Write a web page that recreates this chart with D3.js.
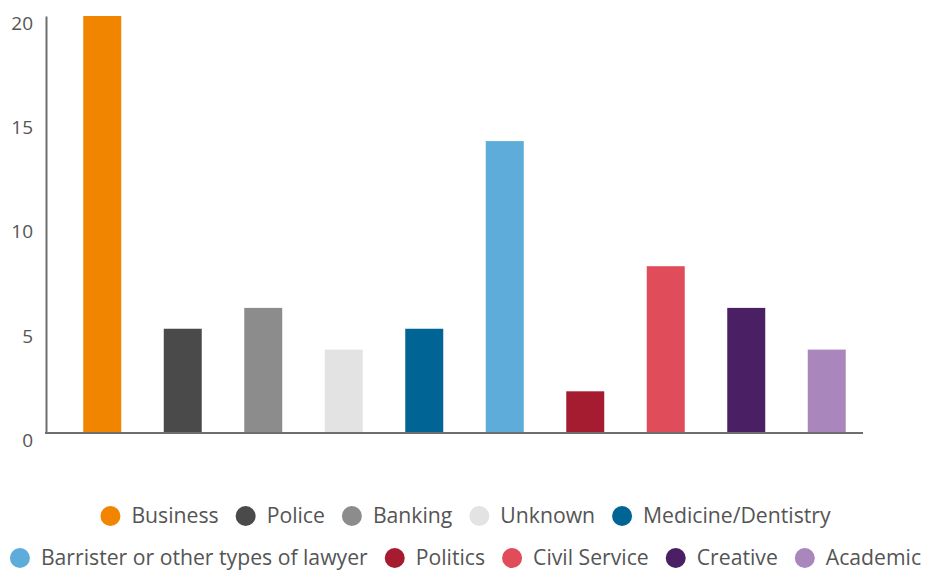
<!DOCTYPE html>
<html>
<head>
<meta charset="utf-8">
<script src="https://cdn.jsdelivr.net/npm/d3@7"></script>
<style>
  html, body { margin: 0; padding: 0; background: #fff; }
  svg { display: block; font-family: "Open Sans", sans-serif; }
</style>
</head>
<body>
<svg id="chart" width="931" height="572"></svg>
<script>
// Occupations and their counts
const categories = ["Business", "Police", "Banking", "Unknown", "Medicine/Dentistry",
  "Barrister or other types of lawyer", "Politics", "Civil Service", "Creative", "Academic"];
const values = [20, 5, 6, 4, 5, 14, 2, 8, 6, 4];
const colors = ["#f28500", "#4a4a4a", "#8c8c8c", "#e3e3e3", "#006494",
  "#5eacd9", "#a51c30", "#e04c5a", "#4a1f63", "#a986bb"];
const yTicks = [0, 5, 10, 15, 20];
const legendRows = [[0, 1, 2, 3, 4], [5, 6, 7, 8, 9]];

const svg = d3.select("#chart");
const W = 931;

const x = d3.scaleBand()
  .domain(categories)
  .range([62, 867])
  .paddingInner(0.528)
  .paddingOuter(0.264);

const y = d3.scaleLinear().domain([0, 20]).range([433, 16]);

// Bars
svg.append("g").selectAll("rect")
  .data(categories)
  .join("rect")
  .attr("x", d => x(d))
  .attr("width", x.bandwidth())
  .attr("y", (d, i) => y(values[i]))
  .attr("height", (d, i) => y(0) - y(values[i]))
  .attr("fill", (d, i) => colors[i]);

// Y axis
const yAxis = d3.axisLeft(y).tickValues(yTicks).tickSize(0).tickPadding(13);
const gy = svg.append("g").attr("transform", "translate(46,0)").call(yAxis);
gy.select(".domain").attr("stroke", "#6e6e6e").attr("stroke-width", 2);
gy.selectAll(".tick text")
  .attr("fill", "#555")
  .attr("font-size", 19)
  .attr("font-family", "Open Sans, sans-serif")
  .attr("dy", "0.7em");

// Baseline
svg.append("line")
  .attr("x1", 45).attr("x2", 863)
  .attr("y1", y(0)).attr("y2", y(0))
  .attr("stroke", "#6e6e6e").attr("stroke-width", 2);

// Legend, two centred rows
const legend = svg.append("g");
const rowY = [516, 558];
const gap = 17;
legendRows.forEach((row, r) => {
  const g = legend.append("g");
  let cx = 0;
  row.forEach(i => {
    const item = g.append("g").attr("transform", `translate(${cx},0)`);
    item.append("circle").attr("cx", 10).attr("cy", 0).attr("r", 10).attr("fill", colors[i]);
    const t = item.append("text")
      .attr("x", 31).attr("y", 0).attr("dy", "0.35em")
      .attr("font-size", 21.2).attr("fill", "#555")
      .text(categories[i]);
    cx += 31 + t.node().getComputedTextLength() + gap;
  });
  const total = cx - gap;
  g.attr("transform", `translate(${(W - total) / 2},${rowY[r]})`);
});
</script>
</body>
</html>
